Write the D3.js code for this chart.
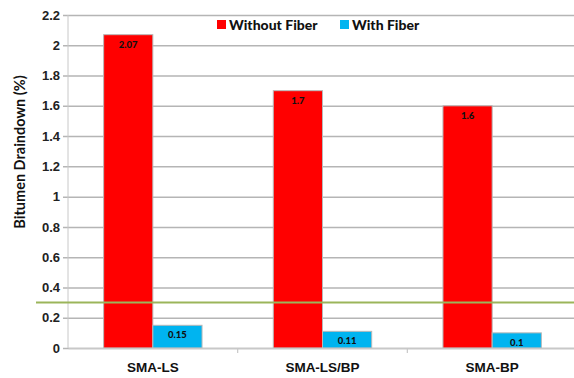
<!DOCTYPE html>
<html>
<head>
<meta charset="utf-8">
<script src="https://cdn.jsdelivr.net/npm/d3@7"></script>
<style>
  html, body { margin: 0; padding: 0; background: #fff; }
  svg { display: block; font-family: Lato, "Open Sans", sans-serif; }
</style>
</head>
<body>
<svg id="chart" width="574" height="378"></svg>
<script>
// Bitumen draindown by mix type, with and without fiber
const categories = ["SMA-LS", "SMA-LS/BP", "SMA-BP"];
const seriesNames = ["Without Fiber", "With Fiber"];
const withoutFiber = [2.07, 1.7, 1.6];
const withFiber = [0.15, 0.11, 0.1];
const labelsWithout = ["2.07", "1.7", "1.6"];
const labelsWith = ["0.15", "0.11", "0.1"];
const yTicks = [0, 0.2, 0.4, 0.6, 0.8, 1, 1.2, 1.4, 1.6, 1.8, 2, 2.2];
const limitValue = 0.3;

const colors = ["#ff0000", "#00b4f0"];

const svg = d3.select("#chart");
const margin = { left: 68, right: -3, top: 15, bottom: 30 };
const W = 574, H = 378;

const x = d3.scaleBand().domain(categories).range([margin.left, W - margin.right]).paddingInner(0).paddingOuter(0);
const y = d3.scaleLinear().domain([0, 2.2]).range([H - margin.bottom, margin.top]);
const groupW = x.bandwidth() * 0.58;
const xs = d3.scaleBand().domain(seriesNames).range([0, groupW]);

// horizontal gridlines with small ticks on the left
const yAxis = d3.axisLeft(y).tickValues(yTicks).tickSize(-(W - margin.left) - 5).tickPadding(8)
  .tickFormat(d => String(d));
const gy = svg.append("g").attr("transform", `translate(${margin.left},0)`).call(yAxis);
gy.select(".domain").remove();
gy.selectAll(".tick line").attr("x1", -5).attr("stroke", "#b5b5b5").attr("stroke-width", 1.5);
gy.selectAll(".tick text").attr("font-size", 13).attr("font-weight", 900).attr("fill", "#222");

// y axis line
svg.append("line").attr("x1", margin.left).attr("x2", margin.left)
  .attr("y1", y(2.2)).attr("y2", y(0)).attr("stroke", "#c8c8c8").attr("stroke-width", 1);

// bars
const data = categories.map((c, i) => ({ c, vals: [withoutFiber[i], withFiber[i]], labs: [labelsWithout[i], labelsWith[i]] }));
const groups = svg.append("g").selectAll("g").data(data).join("g")
  .attr("transform", d => `translate(${x(d.c) + (x.bandwidth() - groupW) / 2},0)`);

groups.selectAll("rect").data(d => d.vals.map((v, j) => ({ v, j, lab: d.labs[j] }))).join("rect")
  .attr("x", d => xs(seriesNames[d.j]))
  .attr("y", d => y(d.v))
  .attr("width", xs.bandwidth())
  .attr("height", d => y(0) - y(d.v))
  .attr("fill", d => colors[d.j])
  .attr("stroke", "#b8b8b8")
  .attr("stroke-width", 1);

groups.selectAll("text").data(d => d.vals.map((v, j) => ({ v, j, lab: d.labs[j] }))).join("text")
  .attr("x", d => xs(seriesNames[d.j]) + xs.bandwidth() / 2)
  .attr("y", d => y(d.v) + 13)
  .attr("text-anchor", "middle")
  .attr("font-size", 9.5)
  .attr("font-weight", 900)
  .attr("fill", "#111")
  .text(d => d.lab);

// x axis
const xAxis = d3.axisBottom(x).tickSize(0).tickPadding(14);
const gx = svg.append("g").attr("transform", `translate(0,${y(0)})`).call(xAxis);
gx.select(".domain").attr("stroke", "#c8c8c8").attr("stroke-width", 1.5);
gx.selectAll(".tick text").attr("font-size", 13.5).attr("font-weight", 900).attr("fill", "#111");
// separators between categories
svg.append("g").selectAll("line").data(categories.slice(1)).join("line")
  .attr("x1", d => x(d)).attr("x2", d => x(d))
  .attr("y1", y(0)).attr("y2", y(0) + 5)
  .attr("stroke", "#c8c8c8").attr("stroke-width", 1.2);

// reference line
svg.append("line").attr("x1", 36).attr("x2", W)
  .attr("y1", y(limitValue)).attr("y2", y(limitValue))
  .attr("stroke", "#9bb55a").attr("stroke-width", 2);

// y axis title
svg.append("text")
  .attr("transform", `translate(25,152) rotate(-90)`)
  .attr("text-anchor", "middle")
  .attr("font-size", 14.5)
  .attr("font-weight", 700)
  .attr("fill", "#111")
  .text("Bitumen Draindown (%)");

// legend
const legendX = [217, 340];
const lg = svg.append("g").selectAll("g").data(seriesNames).join("g")
  .attr("transform", (d, i) => `translate(${legendX[i]},20)`);
lg.append("rect").attr("width", 9).attr("height", 9).attr("fill", (d, i) => colors[i]);
lg.append("text").attr("x", 12).attr("y", 9.5).attr("font-size", 14).attr("font-weight", 900)
  .attr("fill", "#111").text(d => d);
</script>
</body>
</html>
